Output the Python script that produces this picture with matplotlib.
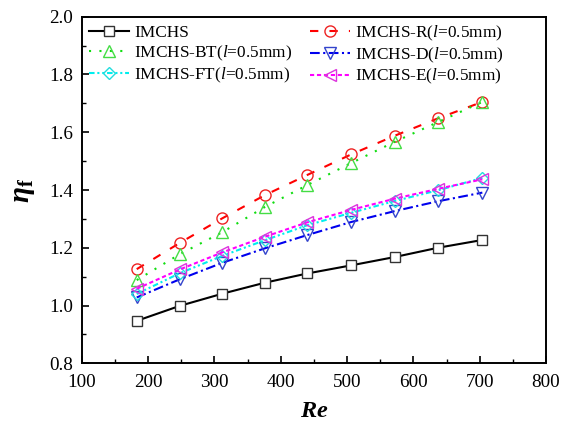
import matplotlib
matplotlib.use("Agg")
import matplotlib.pyplot as plt
from matplotlib.ticker import MultipleLocator, FormatStrFormatter

plt.rcParams['font.family'] = ['Liberation Serif', 'DejaVu Serif']
plt.rcParams['mathtext.fontset'] = 'custom'
plt.rcParams['mathtext.rm'] = 'Liberation Serif'
plt.rcParams['mathtext.it'] = 'Liberation Serif:italic'
plt.rcParams['mathtext.bf'] = 'Liberation Serif:bold'
plt.rcParams['mathtext.bfit'] = 'Liberation Serif:italic:bold'
plt.rcParams['lines.scale_dashes'] = False

# Reynolds numbers
re = [183, 248, 312, 376, 440, 506, 572, 637, 704]

# performance factor for each channel
eta_imchs = [0.947, 0.999, 1.041, 1.079, 1.111, 1.139, 1.168, 1.200, 1.227]
eta_r = [1.126, 1.217, 1.302, 1.382, 1.452, 1.523, 1.588, 1.648, 1.705]
eta_bt = [1.088, 1.178, 1.254, 1.341, 1.417, 1.493, 1.567, 1.635, 1.705]
eta_d = [1.028, 1.091, 1.148, 1.198, 1.244, 1.289, 1.327, 1.361, 1.391]
eta_ft = [1.040, 1.112, 1.172, 1.226, 1.278, 1.321, 1.362, 1.399, 1.442]
eta_e = [1.058, 1.125, 1.184, 1.238, 1.288, 1.331, 1.370, 1.404, 1.437]

labels = ['IMCHS',
          r'IMCHS-R($\mathit{l}$=0.5mm)',
          r'IMCHS-BT($\mathit{l}$=0.5mm)',
          r'IMCHS-D($\mathit{l}$=0.5mm)',
          r'IMCHS-FT($\mathit{l}$=0.5mm)',
          r'IMCHS-E($\mathit{l}$=0.5mm)']

fig = plt.figure(figsize=(5.66, 4.23), dpi=100)
ax = fig.add_axes([0.1443, 0.1411, 0.8204, 0.8194])

lw = 1.5
h0, = ax.plot(re, eta_imchs, color='black', lw=lw, ls='-', marker='s', ms=7.2,
              mfc='white', mec='#333333', mew=1.0, label=labels[0], zorder=3)
h1, = ax.plot(re, eta_r, color='#ff0000', lw=lw, ls=(0, (6, 8)), marker='o', ms=8,
              mfc='none', mec='#ee2222', mew=1.0, label=labels[1], zorder=3)
h2, = ax.plot(re, eta_bt, color='#11dd11', lw=lw, ls=(0, (1.5, 6)), marker='^', ms=9,
              mfc='none', mec='#44dd44', mew=1.0, label=labels[2], zorder=3)
h3, = ax.plot(re, eta_d, color='#0000ee', lw=lw, ls=(0, (7, 2.5, 1.5, 2.5)), marker='v', ms=9,
              mfc='none', mec='#3344cc', mew=1.0, label=labels[3], zorder=3)
h4, = ax.plot(re, eta_ft, color='#00eeee', lw=lw, ls=(0, (4, 2, 1.5, 2, 1.5, 2)), marker='D', ms=6,
              mfc='none', mec='#22dddd', mew=1.0, label=labels[4], zorder=3)
h5, = ax.plot(re, eta_e, color='#ff00ff', lw=lw, ls=(0, (3, 2)), marker='<', ms=9,
              mfc='none', mec='#dd33dd', mew=1.0, label=labels[5], zorder=3)

ax.set_xlim(100, 800)
ax.set_ylim(0.8, 2.0)
ax.xaxis.set_major_locator(MultipleLocator(100))
ax.xaxis.set_minor_locator(MultipleLocator(50))
ax.yaxis.set_major_locator(MultipleLocator(0.2))
ax.yaxis.set_minor_locator(MultipleLocator(0.1))
ax.yaxis.set_major_formatter(FormatStrFormatter('%.1f'))
ax.tick_params(which='both', direction='in', top=False, right=False, labelsize=13.8)
ax.tick_params(which='major', length=5, width=1.2)
ax.tick_params(which='minor', length=3, width=1.0)
ax.tick_params(axis='x', which='major', pad=8)
ax.tick_params(axis='y', which='major', pad=6)
for s in ax.spines.values():
    s.set_linewidth(1.4)

ax.set_xlabel(r'$\mathbfit{Re}$', fontsize=17.5, labelpad=7)
ax.set_ylabel(r'$\mathbfit{\eta}_\mathbf{f}$', fontsize=21, labelpad=9)

# row-wise order: two entries per row
handles = [h0, h2, h4, h1, h3, h5]
ax.legend(handles=handles, labels=[h.get_label() for h in handles],
          ncol=2, loc='upper left', frameon=False, fontsize=12.4,
          handlelength=2.35, handletextpad=0.3, columnspacing=1.0,
          borderaxespad=0.05, borderpad=0.35, labelspacing=0.15)

fig.savefig('out.png', dpi=100)
